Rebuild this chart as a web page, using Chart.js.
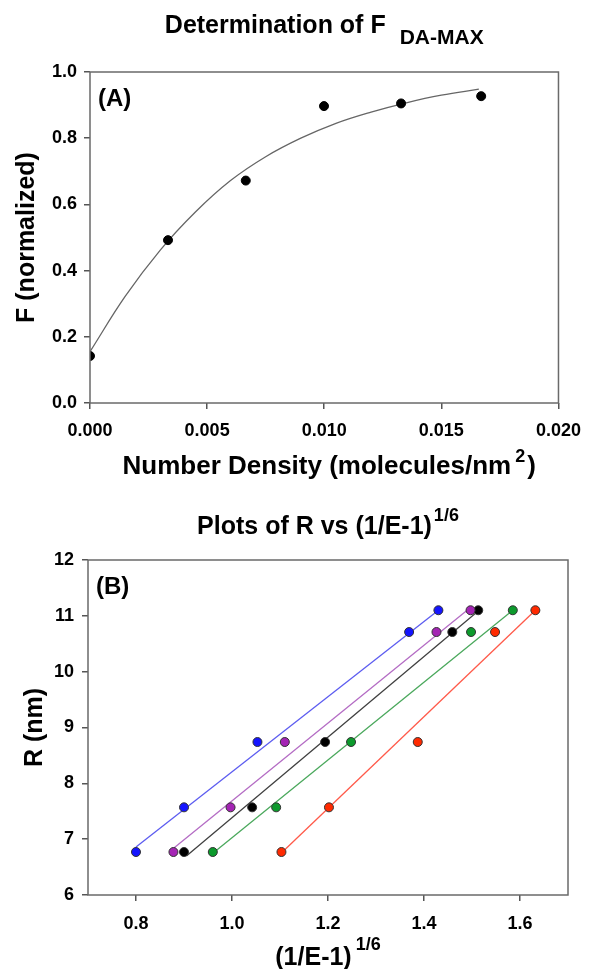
<!DOCTYPE html>
<html>
<head>
<meta charset="utf-8">
<title>Determination of F DA-MAX / Plots of R vs (1/E-1)^1/6</title>
<script src="https://cdn.jsdelivr.net/npm/chart.js@4.4.1/dist/chart.umd.min.js"></script>
<style>
    body { margin: 0; background: #fff; }
    #wrap { position: relative; width: 592px; height: 969px; }
    #chartA { position: absolute; left: 0; top: 0; }
    #chartB { position: absolute; left: 0; top: 490px; }
</style>
</head>
<body>
<div id="wrap">
    <canvas id="chartA" width="592" height="490"></canvas>
    <canvas id="chartB" width="592" height="479"></canvas>
</div>
<script>
// (A) number density vs normalized F
var densityX = [0, 0.00333, 0.00665, 0.00999, 0.01328, 0.0167];
var fValues = [0.142, 0.492, 0.672, 0.897, 0.905, 0.927];
// fitted curve
var fitX = [0, 0.0015, 0.003, 0.0045, 0.006, 0.0075, 0.009, 0.0105, 0.012, 0.0135, 0.015, 0.0166];
var fitY = [0.155, 0.322, 0.462, 0.577, 0.672, 0.744, 0.800, 0.845, 0.879, 0.907, 0.930, 0.948];
var ticksA_x = [0, 0.005, 0.010, 0.015, 0.020];
var ticksA_y = [0, 0.2, 0.4, 0.6, 0.8, 1.0];

// (B) R vs (1/E-1)^1/6
var rValues = [6.77, 7.57, 8.74, 10.71, 11.10];
var blueX = [0.800, 0.900, 1.053, 1.369, 1.430];
var purpleX = [0.878, 0.997, 1.110, 1.426, 1.497];
var blackX = [0.900, 1.042, 1.194, 1.459, 1.513];
var greenX = [0.960, 1.092, 1.248, 1.498, 1.585];
var redX = [1.103, 1.202, 1.387, 1.548, 1.632];
// linear fit end points
var blueFitX = [0.800, 1.430], blueFitY = [6.86, 11.10];
var purpleFitX = [0.877, 1.497], purpleFitY = [6.83, 11.15];
var blackFitX = [0.905, 1.508], blackFitY = [6.70, 11.05];
var greenFitX = [0.962, 1.585], greenFitY = [6.76, 11.10];
var redFitX = [1.105, 1.632], redFitY = [6.77, 11.10];
var ticksB_x = [0.8, 1.0, 1.2, 1.4, 1.6];
var ticksB_y = [6, 7, 8, 9, 10, 11, 12];

var FONT = "'Liberation Sans', Arial, Helvetica, sans-serif";

function pts(xs, ys) {
    return xs.map(function(x, i) { return { x: x, y: ys[i] }; });
}
function ptsConstY(xs) {
    return xs.map(function(x, i) { return { x: x, y: rValues[i] }; });
}

// draws a line of text made of parts (for sub/superscripts), centred on cx
function drawRich(ctx, parts, cx, y) {
    var total = 0;
    parts.forEach(function(p) {
        ctx.font = 'bold ' + p.size + 'px ' + FONT;
        p.w = ctx.measureText(p.text).width;
        total += p.w + (p.pad || 0);
    });
    var x = cx - total / 2;
    ctx.textAlign = 'left';
    ctx.textBaseline = 'alphabetic';
    ctx.fillStyle = '#000';
    parts.forEach(function(p) {
        x += (p.pad || 0);
        ctx.font = 'bold ' + p.size + 'px ' + FONT;
        ctx.fillText(p.text, x, y + (p.dy || 0));
        x += p.w;
    });
}

var decor = {
    id: 'decor',
    afterDraw: function(chart, args, opts) {
        var ctx = chart.ctx, a = chart.chartArea;
        ctx.save();
        ctx.strokeStyle = '#6a6a6a';
        ctx.lineWidth = 1.5;
        ctx.strokeRect(a.left, a.top, a.right - a.left, a.bottom - a.top);
        var cx = (a.left + a.right) / 2;
        drawRich(ctx, opts.title, cx, a.top - opts.titleGap);
        drawRich(ctx, opts.xLabel, cx + opts.xLabelShift, a.bottom + opts.xLabelGap);
        ctx.font = 'bold 24px ' + FONT;
        ctx.fillStyle = '#000';
        ctx.textAlign = 'left';
        ctx.fillText(opts.tag, a.left + 8, a.top + 34);
        ctx.translate(opts.yLabelX, (a.top + a.bottom) / 2);
        ctx.rotate(-Math.PI / 2);
        drawRich(ctx, opts.yLabel, 0, 9);
        ctx.restore();
    }
};

function axis(min, max, tickVals, digits, size, pad) {
    return {
        type: 'linear',
        min: min,
        max: max,
        afterBuildTicks: function(scale) {
            scale.ticks = tickVals.map(function(v) { return { value: v }; });
        },
        afterFit: function(scale) {
            if (scale.isHorizontal()) scale.height = size; else scale.width = size;
        },
        border: { display: false },
        grid: { drawOnChartArea: false, drawTicks: true, tickLength: 6, color: '#555', lineWidth: 1.5 },
        ticks: {
            color: '#000',
            padding: pad,
            font: { family: FONT, size: 18, weight: 'bold' },
            callback: function(v) { return Number(v).toFixed(digits); }
        }
    };
}

Chart.defaults.font.family = FONT;

new Chart(document.getElementById('chartA'), {
    type: 'scatter',
    data: {
        datasets: [{
            data: pts(densityX, fValues),
            backgroundColor: '#000',
            borderColor: '#000',
            pointRadius: 4.5,
            order: 0
        }, {
            data: pts(fitX, fitY),
            showLine: true,
            borderColor: '#666',
            borderWidth: 1.3,
            pointRadius: 0,
            tension: 0.4,
            order: 1
        }]
    },
    options: {
        responsive: false,
        animation: false,
        layout: { padding: { top: 72, right: 25, left: 0, bottom: 0 } },
        plugins: {
            legend: { display: false },
            tooltip: { enabled: false },
            decor: {
                title: [{ text: 'Determination of F', size: 25 }, { text: 'DA-MAX', size: 21, dy: 11, pad: 14 }],
                titleGap: 39,
                xLabel: [{ text: 'Number Density (molecules/nm', size: 26 }, { text: '2', size: 18, dy: -12, pad: 4 }, { text: ')', size: 26, pad: 2 }],
                xLabelGap: 71,
                xLabelShift: 5,
                yLabel: [{ text: 'F (normalized)', size: 25 }],
                yLabelX: 25,
                tag: '(A)'
            }
        },
        scales: {
            x: axis(0, 0.02, ticksA_x, 3, 87, 11),
            y: axis(0, 1, ticksA_y, 1, 90, 7)
        }
    },
    plugins: [decor]
});

function markers(xs, fill) {
    return {
        data: ptsConstY(xs),
        backgroundColor: fill,
        borderColor: '#333',
        borderWidth: 1,
        pointRadius: 4.5,
        order: 0
    };
}
function fitLine(xs, ys, color) {
    return {
        data: pts(xs, ys),
        showLine: true,
        borderColor: color,
        borderWidth: 1.3,
        pointRadius: 0,
        order: 1
    };
}

new Chart(document.getElementById('chartB'), {
    type: 'scatter',
    data: {
        datasets: [
            markers(blueX, '#1414ff'),
            markers(purpleX, '#a424b4'),
            markers(blackX, '#000000'),
            markers(greenX, '#0c9a2c'),
            markers(redX, '#ff2a00'),
            fitLine(blueFitX, blueFitY, '#5c5cf0'),
            fitLine(purpleFitX, purpleFitY, '#b46cc4'),
            fitLine(blackFitX, blackFitY, '#404040'),
            fitLine(greenFitX, greenFitY, '#4aa85c'),
            fitLine(redFitX, redFitY, '#ff5a4a')
        ]
    },
    options: {
        responsive: false,
        animation: false,
        layout: { padding: { top: 70, right: 24, left: 0, bottom: 0 } },
        plugins: {
            legend: { display: false },
            tooltip: { enabled: false },
            decor: {
                title: [{ text: 'Plots of R vs (1/E-1)', size: 25 }, { text: '1/6', size: 18, dy: -13, pad: 2 }],
                titleGap: 26,
                xLabel: [{ text: '(1/E-1)', size: 25 }, { text: '1/6', size: 18, dy: -15, pad: 4 }],
                xLabelGap: 70,
                xLabelShift: 0,
                yLabel: [{ text: 'R (nm)', size: 25 }],
                yLabelX: 33,
                tag: '(B)'
            }
        },
        scales: {
            x: axis(0.7, 1.7, ticksB_x, 1, 74, 12),
            y: axis(6, 12, ticksB_y, 0, 88, 8)
        }
    },
    plugins: [decor]
});
</script>
</body>
</html>
